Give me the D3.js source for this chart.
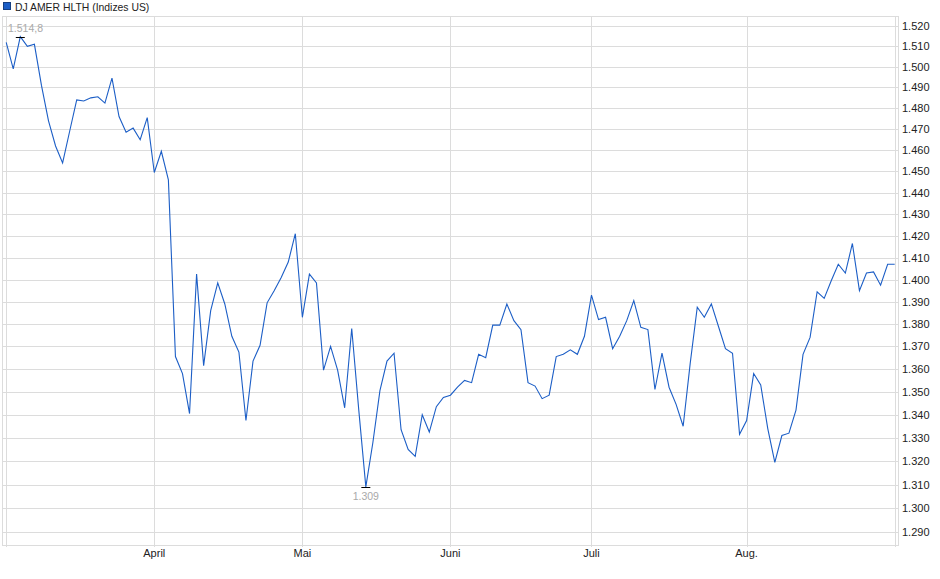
<!DOCTYPE html>
<html>
<head>
<meta charset="utf-8">
<script src="https://cdn.jsdelivr.net/npm/d3@7"></script>
<style>
  body { margin: 0; background: #fff; }
  svg text { font-family: "Liberation Sans", Arial, sans-serif; }
</style>
</head>
<body>
<svg id="chart" width="940" height="579"></svg>
<script>
// DJ AMER HLTH, daily closes (trading days, 3 Mar - 2 Sep 2025)
const title = "DJ AMER HLTH (Indizes US)";
const closes = [
  1512, 1499, 1514.8, 1510, 1511, 1491, 1474, 1462, 1454, 1469,
  1484, 1483.5, 1485, 1485.5, 1482.5, 1494.5, 1476, 1468.5, 1470.5, 1465,
  1475.5, 1449.5, 1459.5, 1446, 1365.5, 1358, 1340.5, 1402.5, 1361.5, 1386,
  1398.5, 1389, 1374.5, 1367.5, 1337.5, 1363.5, 1370.5, 1389.5, 1395, 1401,
  1408, 1421, 1383, 1402.5, 1398.5, 1359.5, 1370, 1359.5, 1343, 1378,
  1342, 1309, 1328, 1350.5, 1363.5, 1367, 1333.5, 1325, 1322, 1340,
  1332.5, 1343.5, 1347.5, 1348.5, 1352, 1355, 1354, 1366.5, 1365, 1379.5,
  1379.5, 1389, 1381.5, 1377.5, 1354, 1352.5, 1347, 1348.5, 1365.5, 1366.5,
  1368.5, 1366.5, 1374.5, 1393, 1382, 1383, 1369, 1374.5, 1381.5, 1390.5,
  1378.5, 1377.5, 1351, 1367, 1352, 1344.5, 1335, 1362.5, 1387.5, 1383,
  1389, 1379, 1369, 1367, 1331.5, 1337.5, 1358, 1353, 1334, 1319.5,
  1331, 1332, 1342, 1366.5, 1374, 1394.5, 1391.5, 1399.5, 1407, 1403,
  1416.5, 1395, 1403, 1403.5, 1397.5, 1407, 1407
];
const monthLabels = ["April", "Mai", "Juni", "Juli", "Aug."];
const monthStart = [21, 42, 63, 83, 105];   // index of first trading day
const yTicks = d3.range(1290, 1521, 10);

const de = d3.formatLocale({decimal: ",", thousands: ".", grouping: [3], currency: ["", " €"]});
const fmtTick = de.format(",.0f");
const fmtVal = de.format(",.1~f");

const plotLeft = 2, plotRight = 897.5, plotTop = 16, plotBottom = 545;
const lineColor = "#1c5ec6";
const gridColor = "#dcdcdc";

const svg = d3.select("#chart");

const x = d3.scaleLinear()
    .domain([0, closes.length - 1])
    .range([6.2, 894.7]);

// log scale
const y = d3.scaleLog()
    .domain([1290, 1520])
    .range([532, 26]);

// legend / title
svg.append("rect")
    .attr("x", 3.5).attr("y", 2.5)
    .attr("width", 7).attr("height", 7)
    .attr("fill", lineColor)
    .attr("stroke", "#173f80");

svg.append("text")
    .attr("x", 15).attr("y", 10.5)
    .style("font-size", "10.4px")
    .attr("fill", "#222")
    .text(title);

// horizontal grid
const grid = svg.append("g").attr("shape-rendering", "crispEdges");
grid.selectAll(".hg")
    .data(yTicks)
    .join("line")
    .attr("x1", plotLeft).attr("x2", plotRight)
    .attr("y1", d => Math.round(y(d)) + 0.5)
    .attr("y2", d => Math.round(y(d)) + 0.5)
    .attr("stroke", gridColor);

// vertical grid: months + first/last day
const vIdx = [0].concat(monthStart, [closes.length - 1]);
grid.selectAll(".vg")
    .data(vIdx)
    .join("line")
    .attr("x1", d => Math.round(x(d)) + 0.5)
    .attr("x2", d => Math.round(x(d)) + 0.5)
    .attr("y1", plotTop).attr("y2", plotBottom + 2)
    .attr("stroke", gridColor);

// frame
grid.append("line")
    .attr("x1", plotLeft).attr("x2", plotRight)
    .attr("y1", plotTop + 0.5).attr("y2", plotTop + 0.5)
    .attr("stroke", gridColor);
grid.append("line")
    .attr("x1", plotLeft).attr("x2", plotRight)
    .attr("y1", plotBottom + 0.5).attr("y2", plotBottom + 0.5)
    .attr("stroke", gridColor);
[plotLeft, plotRight].forEach(px => {
    grid.append("line")
        .attr("x1", px + 0.5).attr("x2", px + 0.5)
        .attr("y1", plotTop).attr("y2", plotBottom + 1)
        .attr("stroke", gridColor);
});

// right axis labels
svg.append("g")
    .selectAll("text")
    .data(yTicks)
    .join("text")
    .attr("x", 902)
    .attr("y", d => y(d) + 4)
    .style("font-size", "11px")
    .attr("fill", "#222")
    .text(d => fmtTick(d));

// month labels
svg.append("g")
    .selectAll("text")
    .data(monthLabels)
    .join("text")
    .attr("x", (d, i) => x(monthStart[i]))
    .attr("y", 557)
    .attr("text-anchor", "middle")
    .style("font-size", "11px")
    .attr("fill", "#222")
    .text(d => d);

// price line
const line = d3.line()
    .x((d, i) => x(i))
    .y(d => y(d));

svg.append("path")
    .datum(closes)
    .attr("d", line)
    .attr("fill", "none")
    .attr("stroke", lineColor)
    .attr("stroke-width", 1.1)
    .attr("stroke-linejoin", "miter");

// high / low markers
const hiIdx = d3.maxIndex(closes);
const loIdx = d3.minIndex(closes);

svg.append("line")
    .attr("x1", x(hiIdx) - 4.5).attr("x2", x(hiIdx) + 4.5)
    .attr("y1", Math.round(y(closes[hiIdx])) + 0.5)
    .attr("y2", Math.round(y(closes[hiIdx])) + 0.5)
    .attr("stroke", "#000");
svg.append("text")
    .attr("x", 8)
    .attr("y", y(closes[hiIdx]) - 4.5)
    .style("font-size", "10.5px")
    .attr("fill", "#a9a9a9")
    .text(fmtVal(closes[hiIdx]));

svg.append("line")
    .attr("x1", x(loIdx) - 4.5).attr("x2", x(loIdx) + 4.5)
    .attr("y1", Math.round(y(closes[loIdx])) + 0.5)
    .attr("y2", Math.round(y(closes[loIdx])) + 0.5)
    .attr("stroke", "#000");
svg.append("text")
    .attr("x", x(loIdx))
    .attr("y", y(closes[loIdx]) + 13.5)
    .attr("text-anchor", "middle")
    .style("font-size", "10.5px")
    .attr("fill", "#a9a9a9")
    .text(fmtVal(closes[loIdx]));
</script>
</body>
</html>
